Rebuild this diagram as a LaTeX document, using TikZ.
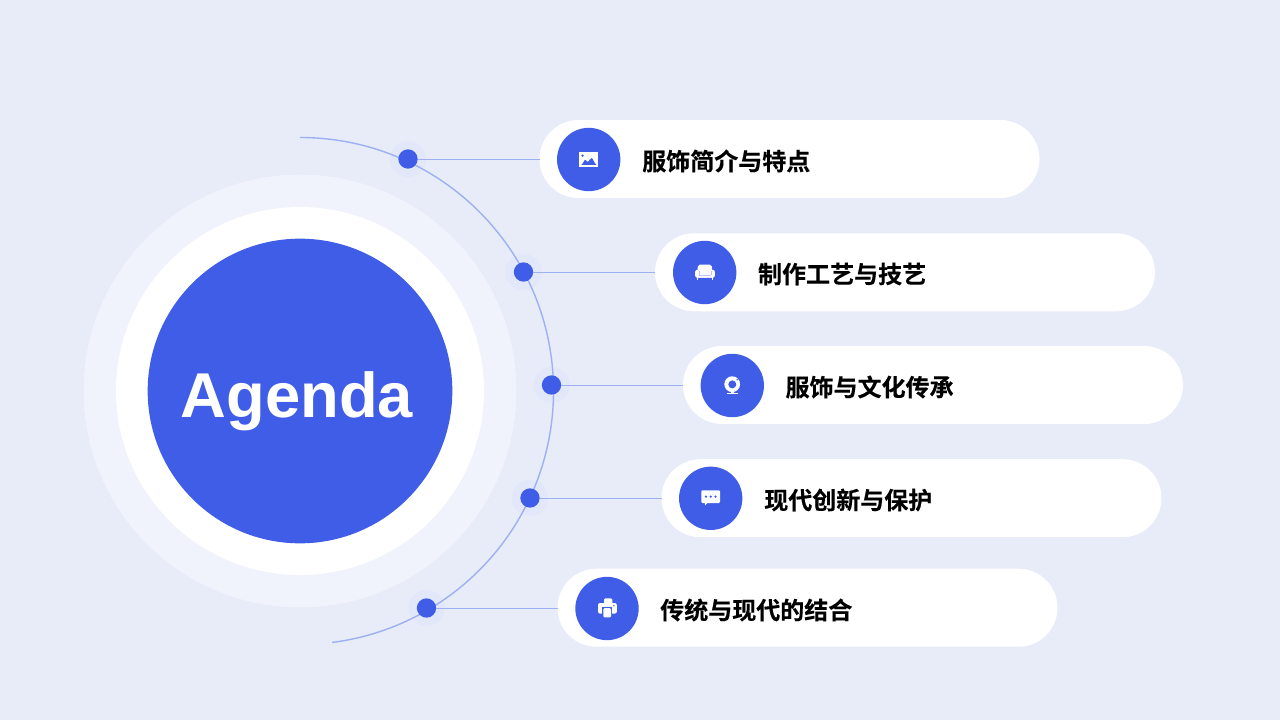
\documentclass[tikz,border=0pt]{standalone}
\usepackage{fontspec}
\usetikzlibrary{shapes.misc}
\setmainfont{Liberation Sans}
\newfontfamily\cjk{Noto Sans CJK SC Bold}[FakeBold=0.25]
\definecolor{bgc}{HTML}{E8EBF8}
\definecolor{bluec}{HTML}{405DE8}
\definecolor{haloc}{HTML}{E2E7FA}
\definecolor{ringc}{HTML}{F0F3FC}
\definecolor{linec}{HTML}{9DB0F2}
\tikzset{
  x=0.75pt,y=-0.75pt,
  disc/.style={circle,inner sep=0pt,outer sep=0pt,fill=#1,draw=none},
  halo/.style={disc=haloc,minimum size=27pt},
  dotc/.style={disc=bluec,minimum size=14.5pt},
  pill/.style={rounded rectangle,fill=white,draw=none,inner sep=0pt,outer sep=0pt,minimum width=375pt,minimum height=58.5pt},
  iconbg/.style={disc=bluec,minimum size=47.5pt},
  lbl/.style={anchor=west,inner sep=0pt,font=\cjk\fontsize{18}{20}\selectfont,text=black},
  conn/.style={draw=linec,line width=0.65pt},
  arcl/.style={draw=linec,line width=1.05pt},
  ic/.style={fill=white,draw=none},
  ih/.style={fill=bluec,draw=none}
}
\begin{document}
\begin{tikzpicture}
\useasboundingbox[fill=bgc] (0,0) rectangle (1280,720);
% central rings
\node[disc=ringc,minimum size=324.75pt] (ring) at (300,391) {};
\node[disc=white,minimum size=276pt] (wring) at (300,391) {};
\node[disc=bluec,minimum size=228.5pt] (core) at (300,391) {};
\node[font=\bfseries\fontsize{47.5}{50}\selectfont,text=white,inner sep=0pt] (agenda) at (297,401) {Agenda};
% halos
\node[halo] (h1) at (408,159) {};
\node[halo] (h2) at (523.5,272) {};
\node[halo] (h3) at (551.5,385) {};
\node[halo] (h4) at (530,498) {};
\node[halo] (h5) at (426.5,608) {};
% arc
\draw[arcl] (300,137.5) arc[start angle=-90,end angle=82.7,radius=253.5];
% pills
\node[pill] (p1) at (789.5,159) {};
\node[pill] (p2) at (905,272.3) {};
\node[pill] (p3) at (933,385) {};
\node[pill] (p4) at (911.5,498.2) {};
\node[pill] (p5) at (807.5,607.7) {};
% dots
\node[dotc] (d1) at (408,159) {};
\node[dotc] (d2) at (523.5,272) {};
\node[dotc] (d3) at (551.5,385) {};
\node[dotc] (d4) at (530,498) {};
\node[dotc] (d5) at (426.5,608) {};
% connectors
\draw[conn] (d1.east) -- (d1.east -| p1.west);
\draw[conn] (d2.east) -- (d2.east -| p2.west);
\draw[conn] (d3.east) -- (d3.east -| p3.west);
\draw[conn] (d4.east) -- (d4.east -| p4.west);
\draw[conn] (d5.east) -- (d5.east -| p5.west);
% icon discs
\node[iconbg] (i1) at (588.7,159.5) {};
\node[iconbg] (i2) at (704.7,272.5) {};
\node[iconbg] (i3) at (732.3,385.5) {};
\node[iconbg] (i4) at (710.7,498.3) {};
\node[iconbg] (i5) at (607,608.5) {};
% labels
\node[lbl] (t1) at (642,161) {服饰简介与特点};
\node[lbl] (t2) at (757.8,274) {制作工艺与技艺};
\node[lbl] (t3) at (785.3,387) {服饰与文化传承};
\node[lbl] (t4) at (764,500) {现代创新与保护};
\node[lbl] (t5) at (660,610) {传统与现代的结合};
% icon: picture
\fill[ic] (579.3,152.5) rectangle (598.2,167);
\fill[ih] (581,165) .. controls (583,164.5) and (584,160) .. (585.2,159.8) .. controls (586.3,160) and (587,162) .. (588,162) .. controls (589.2,161) and (590.5,158) .. (591.6,158) .. controls (593,158.2) and (594.5,164) .. (596.6,165) -- cycle;
\fill[ih] (582.5,155.7) circle (1.3);
% icon: sofa
\fill[ic,rounded corners=1.5] (698,264.5) -- (711.7,264.5) -- (712.8,277.7) -- (696.8,277.7) -- cycle;
\fill[ic,rounded corners=1.5] (695.2,269.8) rectangle (714.8,277.7);
\fill[ih,opacity=0.35] (698.5,271.2) rectangle (699,275);
\fill[ih,opacity=0.35] (710.6,271.2) rectangle (711.1,275);
\fill[ih,opacity=0.35] (699,274.8) rectangle (710.6,275.3);
\fill[ic] (697.3,277) rectangle (698.1,280);
\fill[ic] (711.7,277) rectangle (712.5,280);
% icon: webcam
\fill[ic] (732.2,384.2) circle (7.9);
\fill[ih] (732.3,384.4) circle (4);
\fill[ih] (737.2,379.7) circle (0.8);
\fill[ic] (726.5,393) rectangle (738,394.2);
\fill[ic] (730.5,392) rectangle (734.1,393);
% icon: chat
\fill[ic,rounded corners=0.8] (701.3,490.3) rectangle (720,503);
\fill[ic] (704.7,502.5) -- (707.8,502.5) -- (705.1,505.3) -- cycle;
\fill[ih] (705.9,496.6) circle (1.25);
\fill[ih] (710.7,496.6) circle (1.25);
\fill[ih] (715.5,496.6) circle (1.25);
% icon: printer
\fill[ic,rounded corners=1] (604,598.3) rectangle (612.3,604.5);
\fill[ic,rounded corners=1.5] (598,603) rectangle (616.8,613.6);
\fill[ih] (602.2,607.2) rectangle (612.2,618);
\fill[ic,rounded corners=0.8] (603.4,608.2) rectangle (611,617.4);
\fill[ih] (613.8,605.6) circle (0.8);
\end{tikzpicture}
\end{document}
